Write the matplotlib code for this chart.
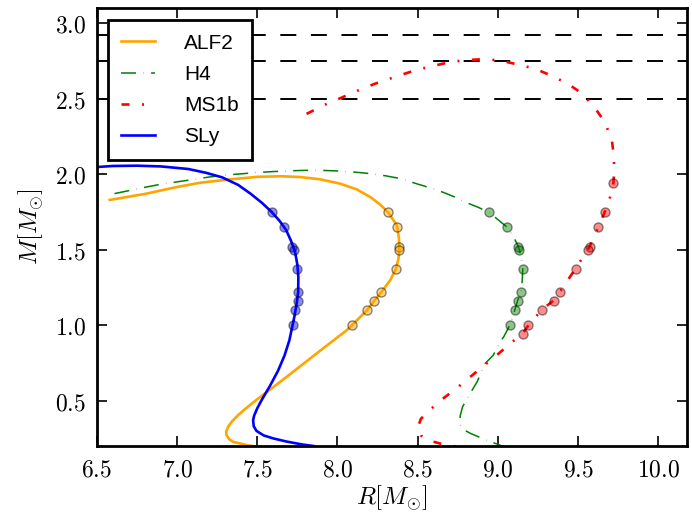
import matplotlib
matplotlib.use("Agg")
import matplotlib.pyplot as plt
from matplotlib.ticker import FuncFormatter, MultipleLocator

plt.rcParams['mathtext.fontset'] = 'cm'
plt.rcParams['lines.scale_dashes'] = False

# mass-radius curves
sly_R = [6.50, 6.60, 6.75, 6.90, 7.07, 7.18, 7.28, 7.38, 7.46, 7.53, 7.59, 7.64, 7.68,
         7.71, 7.735, 7.75, 7.756, 7.755, 7.745, 7.73, 7.72, 7.70, 7.67, 7.63, 7.58,
         7.525, 7.50, 7.48, 7.474, 7.478, 7.495, 7.54, 7.60, 7.68, 7.78, 7.85]
sly_M = [2.048, 2.055, 2.057, 2.052, 2.035, 2.01, 1.98, 1.93, 1.87, 1.81, 1.75, 1.69, 1.63,
         1.56, 1.49, 1.40, 1.32, 1.22, 1.14, 1.05, 1.0, 0.90, 0.80, 0.70, 0.60,
         0.50, 0.45, 0.40, 0.37, 0.33, 0.30, 0.27, 0.25, 0.23, 0.21, 0.20]

alf2_R = [6.58, 6.80, 7.00, 7.15, 7.32, 7.50, 7.65, 7.766, 7.89, 8.016, 8.12, 8.203,
          8.266, 8.317, 8.37, 8.383, 8.386, 8.38, 8.364, 8.33, 8.272, 8.23, 8.182, 8.09,
          8.05, 8.00, 7.90, 7.80, 7.70, 7.60, 7.50, 7.43, 7.38, 7.34, 7.318, 7.306,
          7.308, 7.325, 7.35, 7.44, 7.50]
alf2_M = [1.83, 1.87, 1.916, 1.945, 1.965, 1.983, 1.987, 1.982, 1.967, 1.938, 1.90, 1.85,
          1.80, 1.746, 1.662, 1.58, 1.50, 1.44, 1.373, 1.30, 1.218, 1.163, 1.097, 1.0,
          0.96, 0.92, 0.838, 0.755, 0.672, 0.59, 0.51, 0.45, 0.404, 0.36, 0.326, 0.295,
          0.272, 0.245, 0.227, 0.205, 0.195]

h4_R = [6.61, 6.71, 6.81, 6.90, 7.00, 7.10, 7.20, 7.30, 7.40, 7.50, 7.60, 7.70, 7.80, 7.90,
        8.00, 8.10, 8.20, 8.30, 8.40, 8.50, 8.58, 8.66, 8.73, 8.81, 8.88, 8.946, 9.00,
        9.057, 9.10, 9.126, 9.134, 9.15, 9.155, 9.152, 9.145, 9.124, 9.105, 9.074, 9.04,
        9.015, 8.97, 8.92, 8.87, 8.82, 8.78, 8.765, 8.766, 8.80, 8.83, 8.93, 9.04]
h4_M = [1.872, 1.894, 1.916, 1.934, 1.95, 1.965, 1.982, 1.995, 2.003, 2.012, 2.018, 2.023,
        2.026, 2.026, 2.022, 2.015, 2.005, 1.99, 1.97, 1.935, 1.91, 1.88, 1.85, 1.81, 1.78,
        1.746, 1.70, 1.65, 1.58, 1.525, 1.50, 1.42, 1.375, 1.30, 1.22, 1.166, 1.10, 1.0,
        0.93, 0.889, 0.80, 0.746, 0.624, 0.536, 0.46, 0.40, 0.338, 0.30, 0.283, 0.238, 0.195]

ms1b_R = [7.807, 7.92, 8.026, 8.13, 8.234, 8.345, 8.453, 8.562, 8.672, 8.78, 8.90, 9.01,
          9.12, 9.23, 9.328, 9.436, 9.526, 9.605, 9.666, 9.71, 9.724, 9.724, 9.72, 9.70,
          9.666, 9.626, 9.574, 9.56, 9.484, 9.386, 9.349, 9.272, 9.19, 9.155, 9.089, 9.0,
          8.916, 8.828, 8.74, 8.65, 8.567, 8.52, 8.50, 8.52, 8.56, 8.66, 8.75]
ms1b_M = [2.40, 2.46, 2.508, 2.556, 2.60, 2.64, 2.678, 2.71, 2.736, 2.755, 2.762, 2.755,
          2.728, 2.70, 2.656, 2.60, 2.534, 2.44, 2.346, 2.23, 2.114, 1.993, 1.942, 1.85,
          1.75, 1.649, 1.525, 1.50, 1.375, 1.22, 1.166, 1.10, 1.0, 0.945, 0.889, 0.808,
          0.735, 0.658, 0.58, 0.508, 0.43, 0.38, 0.32, 0.27, 0.24, 0.21, 0.195]

# measured pulsar masses placed on each curve
obs_M = [1.75, 1.65, 1.52, 1.50, 1.37, 1.22, 1.16, 1.10, 1.00]
sly_obs_R = [7.589, 7.666, 7.714, 7.726, 7.747, 7.755, 7.751, 7.737, 7.72]
alf2_obs_R = [8.316, 8.37, 8.384, 8.386, 8.364, 8.272, 8.23, 8.182, 8.09]
h4_obs_R = [8.946, 9.057, 9.126, 9.134, 9.155, 9.145, 9.124, 9.105, 9.074]
ms1b_obs_M = [1.94, 1.75, 1.65, 1.52, 1.50, 1.37, 1.22, 1.16, 1.10, 1.00, 0.945]
ms1b_obs_R = [9.72, 9.666, 9.626, 9.574, 9.56, 9.484, 9.386, 9.349, 9.272, 9.19, 9.155]

hlines = [2.92, 2.75, 2.5]

fig = plt.figure(figsize=(6.92, 5.15), dpi=100)
ax = fig.add_axes([0.140, 0.134, 0.853, 0.850])

for y in hlines:
    ax.axhline(y, color='k', lw=1.4, linestyle=(0, (11.5, 10.5)), zorder=1)

ax.plot(alf2_R, alf2_M, color='orange', lw=1.9, label='ALF2', zorder=2)
ax.plot(h4_R, h4_M, color='green', lw=1.1, linestyle=(0, (10.8, 5.3, 0.25, 5.3)),
        label='H4', zorder=2)
ax.plot(ms1b_R, ms1b_M, color='red', lw=1.9, linestyle=(0, (5.8, 9.0, 1.4, 9.0)),
        label='MS1b', zorder=2)
ax.plot(sly_R, sly_M, color='blue', lw=1.9, label='SLy', zorder=2)

for r, m, c in [(sly_obs_R, obs_M, 'blue'), (alf2_obs_R, obs_M, 'orange'),
                (h4_obs_R, obs_M, 'green'), (ms1b_obs_R, ms1b_obs_M, 'red')]:
    ax.plot(r, m, 'o', color=c, ms=6.5, mec='k', mew=1.0, alpha=0.45, zorder=3)

ax.set_xlim(6.5, 10.18)
ax.set_ylim(0.2, 3.1)
ax.xaxis.set_major_locator(MultipleLocator(0.5))
ax.yaxis.set_major_locator(MultipleLocator(0.5))
fmt = FuncFormatter(lambda v, p: r'$%.1f$' % v)
ax.xaxis.set_major_formatter(fmt)
ax.yaxis.set_major_formatter(fmt)
ax.tick_params(direction='in', length=7, width=1.2, labelsize=17, pad=8,
               top=True, right=True)
for s in ax.spines.values():
    s.set_linewidth(2.0)

ax.set_xlabel(r'$R[M_{\odot}]$', fontsize=18, labelpad=2)
ax.set_ylabel(r'$M[M_{\odot}]$', fontsize=18, labelpad=6)

leg = ax.legend(loc='upper left', bbox_to_anchor=(0.0186, 0.9726), borderaxespad=0,
                fancybox=False, prop={'family': 'Liberation Sans', 'size': 15},
                handlelength=1.6, handletextpad=1.4, borderpad=0.65,
                labelspacing=0.58, framealpha=1)
leg.get_frame().set_edgecolor('k')
leg.get_frame().set_linewidth(2.0)

fig.savefig('out.png', dpi=100)
